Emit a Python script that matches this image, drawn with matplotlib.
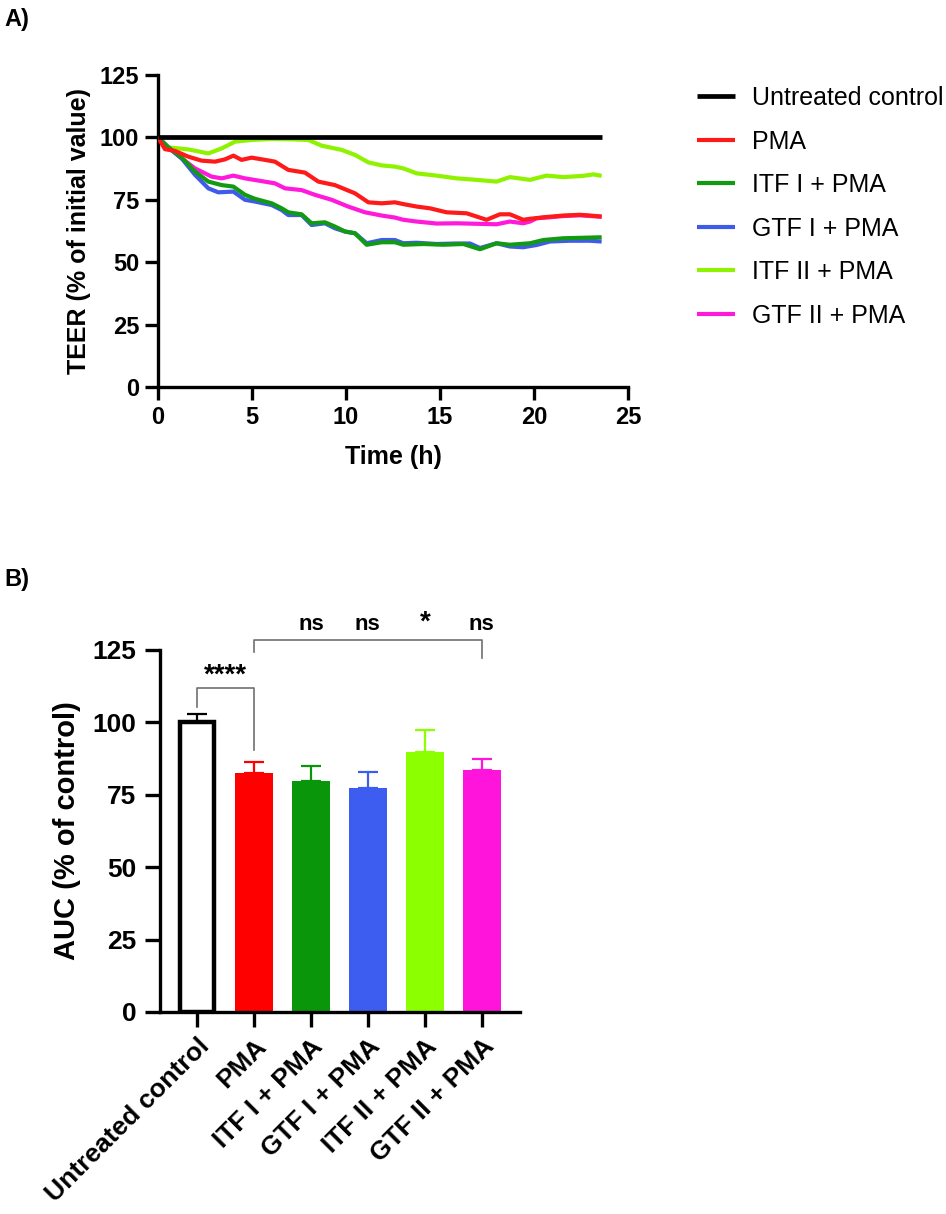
import numpy as np
import matplotlib
matplotlib.use('Agg')
import matplotlib.pyplot as plt

plt.rcParams['font.family'] = ['Liberation Sans', 'DejaVu Sans']

# ---- Painel A: TEER ao longo do tempo ----
t_ctrl = [0, 23.6]
teer_ctrl = [100, 100]

t_pma = [0, 0.37, 0.9, 1.61, 2.32, 3.03, 3.56, 4.01, 4.45, 4.98, 5.69, 6.22, 6.93, 7.82,
         8.53, 9.41, 10.48, 11.19, 11.9, 12.6, 13.05, 13.76, 14.47, 15.35, 16.42, 17.48,
         18.19, 18.72, 19.43, 19.79, 20.5, 21.56, 22.45, 22.98, 23.6]
teer_pma = [100, 95.3, 94.6, 92.3, 90.7, 90.3, 91.2, 92.7, 91, 91.9, 91, 90.3, 87, 85.9,
            82.3, 80.9, 77.6, 74, 73.6, 74, 73.3, 72.3, 71.6, 70, 69.6, 67,
            69.2, 69.2, 67, 67.4, 68, 68.7, 69, 68.7, 68.3]

t_itf1 = [0, 0.55, 1.26, 1.97, 2.68, 3.39, 4.01, 4.63, 5.16, 6.05, 6.58, 6.93, 7.64, 8.17,
          8.88, 9.41, 9.95, 10.48, 11.1, 11.9, 12.6, 13.05, 14.11, 15.18, 16.24, 17.13,
          18.01, 18.72, 19.79, 20.5, 21.56, 22.62, 23.6]
teer_itf1 = [100, 96, 92, 86.3, 82.3, 80.9, 80.3, 77, 75.4, 73.6, 71.6, 70, 69.2, 65.6,
             66, 64.3, 62.3, 61.6, 57, 58, 58, 57, 57.3, 57, 57.3, 55.2,
             57.6, 57, 57.6, 58.9, 59.6, 59.8, 60]

t_gtf1 = [0, 0.55, 1.26, 1.97, 2.68, 3.21, 4.01, 4.63, 5.16, 6.05, 6.58, 6.93, 7.64, 8.17,
          8.88, 9.41, 9.95, 10.48, 11.1, 11.9, 12.6, 13.05, 13.76, 14.82, 15.89, 16.6,
          17.13, 18.01, 18.72, 19.43, 20.14, 20.85, 21.91, 22.98, 23.6]
teer_gtf1 = [100, 96, 91.6, 85, 79.6, 78, 78.3, 75, 74.3, 72.9, 70.9, 68.9, 68.9, 64.9,
             65.6, 63.6, 62.3, 61.6, 57.6, 58.9, 58.9, 57.6, 57.8, 57.3, 57.5, 57.5,
             55.7, 57.6, 56.3, 56, 56.9, 58.3, 58.6, 58.6, 58.3]

t_itf2 = [0, 0.55, 1.61, 2.68, 3.39, 4.1, 4.98, 6.05, 6.93, 7.99, 8.71, 9.77, 10.48, 11.19,
          11.9, 12.6, 13.05, 13.76, 14.82, 15.89, 16.95, 18.01, 18.72, 19.79, 20.67, 21.56,
          22.62, 23.16, 23.6]
teer_itf2 = [100, 96, 95.2, 93.6, 95.6, 98.3, 99, 99.4, 99.3, 99, 96.7, 95, 93, 90,
             88.8, 88.3, 87.6, 85.6, 84.7, 83.6, 83, 82.3, 84.1, 83, 84.7, 84.1,
             84.6, 85.2, 84.6]

t_gtf2 = [0, 0.55, 1.26, 1.97, 2.85, 3.39, 4.01, 4.63, 5.51, 6.22, 6.76, 7.64, 8.35, 9.24,
          10.12, 11.01, 11.9, 12.6, 13.05, 13.76, 14.82, 15.89, 16.95, 18.01, 18.72, 19.43,
          19.79, 20.14, 20.85, 21.56, 22.45, 23.6]
teer_gtf2 = [100, 96, 91.6, 87.6, 84.3, 83.6, 84.7, 83.6, 82.5, 81.6, 79.6, 78.9, 77, 75,
             72.3, 70, 68.7, 67.9, 67, 66.3, 65.5, 65.6, 65.4, 65.2, 66.3, 65.6,
             66.3, 67.6, 68, 68.5, 68.8, 68.2]

nomes_linhas = ['Untreated control', 'PMA', 'ITF I + PMA', 'GTF I + PMA',
                'ITF II + PMA', 'GTF II + PMA']
cores_linhas = ['black', '#FF1A1A', '#139A13', '#3E5CE8', '#8EF200', '#FF1ADB']

# ---- Painel B: AUC ----
grupos = ['Untreated control', 'PMA', 'ITF I + PMA', 'GTF I + PMA',
          'ITF II + PMA', 'GTF II + PMA']
auc_media = [100, 82.5, 79.8, 77.4, 89.8, 83.5]
auc_erro = [3.0, 3.8, 5.1, 5.6, 7.6, 3.9]
cores_barras = ['white', '#FF0000', '#0A960A', '#3D5CF0', '#8CFF00', '#FF14DC']
signif = ['ns', 'ns', '*', 'ns']  # ITF I, GTF I, ITF II, GTF II vs PMA

fig = plt.figure(figsize=(9.46, 12.14), dpi=100)

# ---------- A ----------
axA = fig.add_axes([0.167, 0.6812, 0.4968, 0.2570])
series = [(t_ctrl, teer_ctrl), (t_pma, teer_pma), (t_itf1, teer_itf1),
          (t_gtf1, teer_gtf1), (t_itf2, teer_itf2), (t_gtf2, teer_gtf2)]
handles = [None] * len(series)
# desenha de tras pra frente (primeira serie fica por cima)
for i in range(len(series) - 1, -1, -1):
    t, v = series[i]
    lw = 3.4 if i == 0 else 3.0
    h, = axA.plot(t, v, color=cores_linhas[i], lw=lw, label=nomes_linhas[i],
                  solid_capstyle='butt', zorder=3 + (len(series) - i))
    handles[i] = h

axA.set_xlim(0, 25)
axA.set_ylim(0, 125)
axA.set_xticks([0, 5, 10, 15, 20, 25])
axA.set_yticks([0, 25, 50, 75, 100, 125])
for s in ['top', 'right']:
    axA.spines[s].set_visible(False)
for s in ['left', 'bottom']:
    axA.spines[s].set_linewidth(2.4)
axA.tick_params(width=2.4, length=9.5, labelsize=17, pad=4)
for lab in axA.get_xticklabels() + axA.get_yticklabels():
    lab.set_fontweight('bold')
axA.set_xlabel('Time (h)', fontsize=18, fontweight='bold', labelpad=12)
axA.set_ylabel('TEER (% of initial value)', fontsize=18, fontweight='bold', labelpad=6)

fig.legend(handles=handles, labels=nomes_linhas, loc='upper left',
           bbox_to_anchor=(0.737, 0.929), frameon=False, fontsize=18,
           handlelength=1.5, handletextpad=0.7, labelspacing=0.78,
           borderpad=0, borderaxespad=0)

fig.text(0.005, 0.993, 'A)', fontsize=17, fontweight='bold', va='top', ha='left')

# ---------- B ----------
axB = fig.add_axes([0.1691, 0.1664, 0.3805, 0.2982])
x = np.arange(len(grupos))
for i in range(len(grupos)):
    if i == 0:
        axB.bar(x[i], auc_media[i], width=0.6, color='white', edgecolor='black',
                linewidth=3.2, zorder=2)
        ec = 'black'
    else:
        axB.bar(x[i], auc_media[i], width=0.66, color=cores_barras[i], zorder=2)
        ec = cores_barras[i]
    axB.errorbar(x[i], auc_media[i], yerr=[[0], [auc_erro[i]]], fmt='none',
                 ecolor=ec, elinewidth=1.6, capsize=7.5, capthick=1.6, zorder=3)

axB.set_xlim(-0.65, 5.67)
axB.set_ylim(0, 125)
axB.set_yticks([0, 25, 50, 75, 100, 125])
axB.set_xticks(x)
axB.set_xticklabels(grupos, rotation=45, ha='right', rotation_mode='anchor')
for s in ['top', 'right']:
    axB.spines[s].set_visible(False)
for s in ['left', 'bottom']:
    axB.spines[s].set_linewidth(2.4)
axB.tick_params(width=2.4, length=11, labelsize=19, pad=6)
axB.tick_params(axis='x', pad=5)
for lab in axB.get_xticklabels() + axB.get_yticklabels():
    lab.set_fontweight('bold')
axB.set_ylabel('AUC (% of control)', fontsize=21, fontweight='bold', labelpad=8)

# colchetes de significancia
cinza = '#707070'
axB.plot([0, 0, 1, 1], [105.3, 111.9, 111.9, 90.5], color=cinza, lw=1.2, clip_on=False)
axB.text(0.5, 111.5, '****', ha='center', va='bottom', fontsize=20, fontweight='bold')
axB.plot([1, 1, 5, 5], [124.3, 128.5, 128.5, 122.2], color=cinza, lw=1.2, clip_on=False)
for j, s in enumerate(signif):
    fs = 20 if s == '*' else 16
    axB.text(x[j + 2], 130.0, s, ha='center', va='bottom', fontsize=fs,
             fontweight='bold')

fig.text(0.005, 0.532, 'B)', fontsize=17, fontweight='bold', va='top', ha='left')

plt.savefig('out.png', dpi=100)
